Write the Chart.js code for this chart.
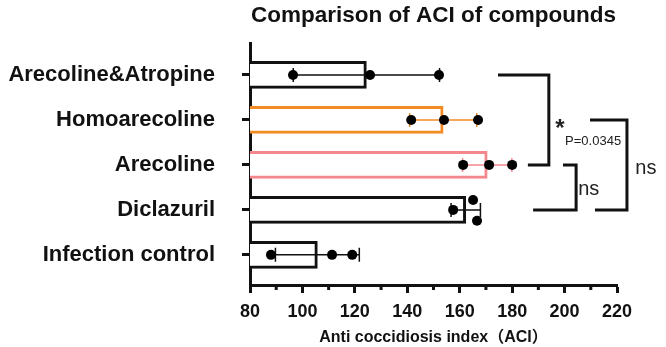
<!DOCTYPE html>
<html>
<head>
<meta charset="utf-8">
<script src="https://cdn.jsdelivr.net/npm/chart.js@4.4.1/dist/chart.umd.min.js"></script>
<style>
  html, body { margin: 0; padding: 0; background: #fff; }
  #wrap { width: 666px; height: 347px; position: relative; }
</style>
</head>
<body>
<div id="wrap"><canvas id="aciChart"></canvas></div>
<script>
const categories = ['Arecoline&Atropine', 'Homoarecoline', 'Arecoline', 'Diclazuril', 'Infection control'];
const meanACI = [124.4, 153.7, 170.5, 162.3, 105.7];
const sdACI = [27.9, 12.8, 9.4, 5.6, 16.0];
const pointsACI = [
    [96.4, 125.8, 152.1],
    [141.5, 154.0, 167.0],
    [161.3, 171.2, 180.0],
    [157.5, 165.1, 166.6],
    [88.0, 111.3, 119.0]
];
const xTicks = [80, 100, 120, 140, 160, 180, 200, 220];

// vertical spread of the dots inside a row (in category units)
const jitter = [[0, 0, 0], [0, 0, 0], [0, 0, 0], [0, -0.22, 0.24], [0, 0, 0]];
const barColors = ['#111111', '#F28B24', '#F4878C', '#111111', '#111111'];

// significance brackets, x in ACI units, rows by index
const brackets = [
    { from: 0, to: 2, x: 194, topStart: 174.6, botStart: 186 },
    { from: 2, to: 3, x: 204.4, topStart: 199.4, botStart: 188 },
    { from: 1, to: 3, x: 223.8, topStart: 209.7, botStart: 211.6 }
];
const bracketTexts = [
    { text: '*', x: 196.4, y: 1.21, font: 'bold 24px "Liberation Sans", Arial' },
    { text: 'P=0.0345', x: 200.2, y: 1.48, font: '13px "Liberation Sans", Arial' },
    { text: 'ns', x: 205.2, y: 2.54, font: '20px "Liberation Sans", Arial' },
    { text: 'ns', x: 227.0, y: 2.08, font: '20px "Liberation Sans", Arial' }
];

const FONT = '"Liberation Sans", Arial, sans-serif';

const scatterPoints = [];
pointsACI.forEach((row, i) => {
    row.forEach((v, j) => scatterPoints.push({ x: v, y: i + jitter[i][j] }));
});

const errorBars = {
    id: 'errorBars',
    afterDatasetDraw(chart, args) {
        if (args.index !== 0) return;
        const xs = chart.scales.x, ys = chart.scales.y, ctx = chart.ctx;
        ctx.save();
        meanACI.forEach((m, i) => {
            const y = ys.getPixelForValue(i);
            const x1 = xs.getPixelForValue(m - sdACI[i]);
            const x2 = xs.getPixelForValue(m + sdACI[i]);
            ctx.strokeStyle = barColors[i];
            ctx.lineWidth = 1.5;
            ctx.beginPath();
            ctx.moveTo(x1, y); ctx.lineTo(x2, y);
            ctx.moveTo(x1, y - 7); ctx.lineTo(x1, y + 7);
            ctx.moveTo(x2, y - 7); ctx.lineTo(x2, y + 7);
            ctx.stroke();
        });
        ctx.restore();
    }
};

const extras = {
    id: 'extras',
    afterDraw(chart) {
        const xs = chart.scales.x, ys = chart.scales.y, ctx = chart.ctx;
        ctx.save();
        // minor ticks on x axis
        ctx.strokeStyle = '#111';
        ctx.lineWidth = 3;
        ctx.beginPath();
        for (let v = 90; v < 220; v += 20) {
            const px = xs.getPixelForValue(v);
            ctx.moveTo(px, xs.top); ctx.lineTo(px, xs.top + 5);
        }
        ctx.stroke();
        // brackets
        ctx.lineWidth = 3;
        brackets.forEach(b => {
            const x = xs.getPixelForValue(b.x);
            const y1 = ys.getPixelForValue(b.from);
            const y2 = ys.getPixelForValue(b.to);
            ctx.beginPath();
            ctx.moveTo(xs.getPixelForValue(b.topStart), y1);
            ctx.lineTo(x, y1);
            ctx.lineTo(x, y2);
            ctx.lineTo(xs.getPixelForValue(b.botStart), y2);
            ctx.stroke();
        });
        ctx.fillStyle = '#222';
        ctx.textBaseline = 'middle';
        ctx.textAlign = 'left';
        bracketTexts.forEach(t => {
            ctx.font = t.font;
            ctx.fillText(t.text, xs.getPixelForValue(t.x), ys.getPixelForValue(t.y));
        });
        ctx.restore();
    }
};

new Chart(document.getElementById('aciChart'), {
    data: {
        datasets: [{
            type: 'bar',
            indexAxis: 'y',
            data: meanACI.map((v, i) => ({ x: v, y: i })),
            backgroundColor: '#ffffff',
            borderColor: barColors,
            borderWidth: 3,
            borderSkipped: false,
            barThickness: 27,
            order: 2
        }, {
            type: 'scatter',
            data: scatterPoints,
            pointRadius: 5,
            pointBackgroundColor: '#000',
            pointBorderWidth: 0,
            order: 1
        }]
    },
    options: {
        responsive: true,
        maintainAspectRatio: false,
        animation: false,
        events: [],
        layout: { padding: { left: 0, right: 49, top: 0, bottom: 0 } },
        plugins: {
            legend: { display: false },
            tooltip: { enabled: false },
            title: {
                display: true,
                text: 'Comparison of ACI of compounds',
                fullSize: false,
                color: '#111',
                font: { family: FONT, size: 22.5, weight: 'bold' },
                padding: { top: 2, bottom: 14.0 }
            }
        },
        scales: {
            x: {
                type: 'linear',
                position: 'bottom',
                offset: false,
                min: 80, max: 220,
                afterBuildTicks: s => { s.ticks = xTicks.map(v => ({ value: v })); },
                afterFit: s => { s.height = 62; },
                border: { display: true, color: '#111', width: 3 },
                grid: { offset: false, drawOnChartArea: false, drawTicks: true, tickLength: 8, tickWidth: 3, tickColor: '#111' },
                ticks: { color: '#111', padding: 8, font: { family: FONT, size: 18, weight: 'bold' } },
                title: {
                    display: true,
                    text: 'Anti coccidiosis index（ACI）',
                    color: '#111',
                    padding: { top: 0, bottom: 0 },
                    font: { family: FONT + ', "Noto Sans CJK SC"', size: 16, weight: 'bold' }
                }
            },
            y: {
                type: 'linear',
                position: 'left',
                reverse: true,
                offset: false,
                min: -0.71, max: 4.67,
                afterBuildTicks: s => { s.ticks = categories.map((c, i) => ({ value: i })); },
                afterFit: s => { s.width = 250; },
                border: { display: true, color: '#111', width: 3 },
                grid: { offset: false, drawOnChartArea: false, drawTicks: true, tickLength: 8, tickWidth: 3, tickColor: '#111' },
                ticks: {
                    color: '#111', padding: 27, autoSkip: false,
                    font: { family: FONT, size: 22, weight: 'bold' },
                    callback: v => categories[v]
                }
            }
        }
    },
    plugins: [errorBars, extras]
});
</script>
</body>
</html>
